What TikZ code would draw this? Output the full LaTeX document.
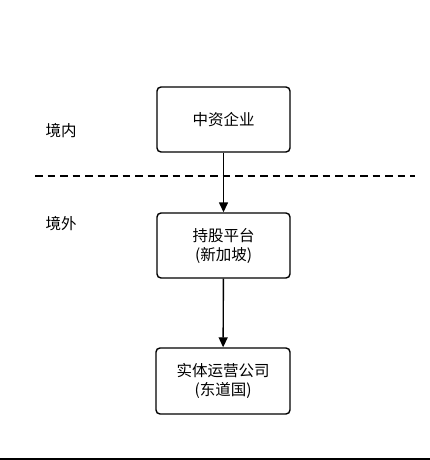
\documentclass[tikz,border=0pt]{standalone}
\usepackage{fontspec}
\setmainfont{Noto Sans CJK SC}
\usetikzlibrary{arrows.meta}
\begin{document}
\begin{tikzpicture}[x=1pt,y=-1pt,
  box/.style={draw=black,line width=1.4pt,rounded corners=4pt,fill=white,align=center,font=\fontsize{15.5}{19}\selectfont,inner sep=0pt},
  lbl/.style={font=\fontsize{15.5}{18}\selectfont,inner sep=0pt},
  conn/.style={line width=1.4pt,-{Triangle[length=10pt,width=9pt]}}]
\useasboundingbox (0,0) rectangle (430,460);
\fill[white] (0,0) rectangle (430,460);
\node[box,minimum width=133pt,minimum height=65pt] (a) at (223.5,119.5) {中资企业};
\node[box,minimum width=133pt,minimum height=65pt] (b) at (223.5,245.5) {持股平台\\(新加坡)};
\node[box,minimum width=134pt,minimum height=66pt] (c) at (223,381) {实体运营公司\\(东道国)};
\node[lbl] (l1) at (61,131) {境内};
\node[lbl] (l2) at (61,224) {境外};
\coordinate (d1) at (35,176);
\coordinate (d2) at (415,176);
\draw[line width=1.8pt,dash pattern=on 7.5pt off 5pt] (d1) -- (d2);
\draw[conn] (a) -- (b);
\draw[conn] (b) -- (c);
\coordinate (e1) at (0,459.2);
\coordinate (e2) at (430,459.2);
\draw[line width=1.5pt] (e1) -- (e2);
\end{tikzpicture}
\end{document}
